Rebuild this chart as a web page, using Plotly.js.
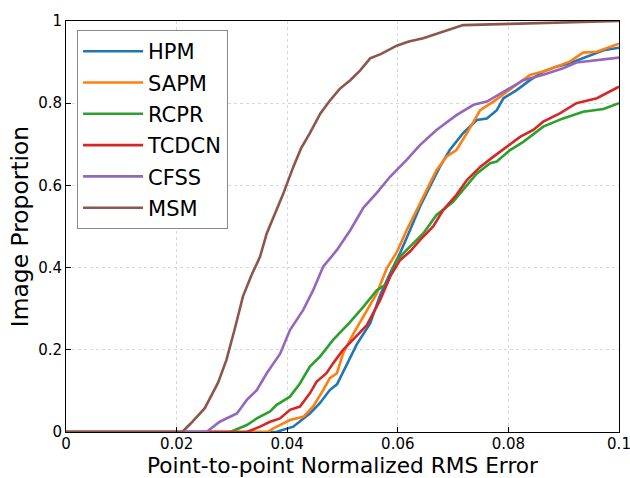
<!DOCTYPE html>
<html><head><meta charset="utf-8">
<script src="https://cdn.plot.ly/plotly-3.0.1.min.js"></script>
<style>html,body{margin:0;padding:0;background:#fff}#chart{width:630px;height:478px}</style>
</head><body><div id="chart"></div>
<script>
var seriesNames = ["HPM","SAPM","RCPR","TCDCN","CFSS","MSM"];
var seriesColors = ["#1f77b4","#ff7f0e","#2ca02c","#d62728","#9467bd","#8c564b"];

var hpmX = [0,0.038,0.0411,0.0441,0.0459,0.0477,0.049,0.0508,0.0526,0.055,0.0568,0.0586,0.0604,0.0622,0.064,0.0658,0.0676,0.0694,0.0718,0.0743,0.0761,0.0779,0.0791,0.0815,0.0839,0.0863,0.0887,0.0911,0.0935,0.0972,0.1];
var hpmY = [0,0,0.013,0.045,0.07,0.102,0.116,0.163,0.214,0.264,0.333,0.386,0.435,0.491,0.548,0.597,0.645,0.686,0.727,0.759,0.763,0.783,0.812,0.832,0.856,0.877,0.889,0.897,0.909,0.929,0.935];

var sapmX = [0,0.0365,0.0375,0.0405,0.0429,0.0447,0.0465,0.0477,0.049,0.0501,0.052,0.0544,0.0562,0.058,0.0598,0.0616,0.0634,0.0652,0.067,0.0688,0.0706,0.0725,0.0749,0.0773,0.0797,0.0839,0.0863,0.0887,0.0911,0.0935,0.096,0.1];
var sapmY = [0,0,0.009,0.029,0.037,0.062,0.102,0.131,0.143,0.191,0.24,0.297,0.337,0.398,0.437,0.491,0.54,0.589,0.637,0.67,0.686,0.727,0.783,0.804,0.828,0.869,0.877,0.889,0.901,0.923,0.925,0.945];

var rcprX = [0,0.0297,0.0327,0.0345,0.0369,0.0381,0.0405,0.0423,0.0441,0.0459,0.0483,0.0514,0.0538,0.0562,0.058,0.0598,0.0622,0.0646,0.067,0.07,0.0718,0.0743,0.0767,0.0779,0.0803,0.0827,0.0863,0.0899,0.0935,0.0972,0.1];
var rcprY = [0,0,0.017,0.033,0.05,0.066,0.086,0.118,0.159,0.183,0.224,0.268,0.305,0.345,0.36,0.418,0.451,0.483,0.528,0.56,0.589,0.629,0.654,0.658,0.686,0.706,0.743,0.763,0.779,0.786,0.8];

var tcdcnX = [0,0.0327,0.0351,0.0369,0.0387,0.0405,0.0423,0.0441,0.0453,0.0471,0.0483,0.0501,0.052,0.0544,0.0568,0.0586,0.0604,0.0622,0.064,0.0664,0.0682,0.0706,0.0725,0.0749,0.0773,0.0797,0.0821,0.0845,0.0863,0.0893,0.0923,0.096,0.1];
var tcdcnY = [0,0,0.013,0.025,0.033,0.054,0.062,0.094,0.122,0.143,0.167,0.2,0.226,0.26,0.321,0.378,0.418,0.439,0.467,0.5,0.54,0.577,0.613,0.645,0.67,0.694,0.718,0.735,0.755,0.775,0.8,0.812,0.84];

var cfssX = [0,0.0254,0.0278,0.0309,0.0327,0.0345,0.0363,0.0387,0.0405,0.0429,0.0447,0.0465,0.049,0.0514,0.0538,0.0562,0.0586,0.0616,0.064,0.067,0.0706,0.0737,0.0761,0.0797,0.0827,0.0863,0.0899,0.0923,0.096,0.1];
var cfssY = [0,0,0.025,0.045,0.078,0.102,0.143,0.19,0.248,0.297,0.345,0.402,0.443,0.491,0.546,0.582,0.621,0.662,0.698,0.735,0.771,0.796,0.804,0.832,0.856,0.869,0.885,0.899,0.905,0.911];

var msmX = [0,0.021,0.0225,0.0251,0.0275,0.029,0.0305,0.032,0.0335,0.0351,0.0363,0.0378,0.0393,0.0411,0.0425,0.0441,0.046,0.0477,0.0495,0.0514,0.0532,0.055,0.057,0.0598,0.062,0.0646,0.0676,0.0694,0.0718,0.0803,0.0923,0.1];
var msmY = [0,0,0.02,0.058,0.12,0.175,0.25,0.33,0.38,0.427,0.483,0.53,0.58,0.645,0.69,0.727,0.775,0.806,0.835,0.856,0.88,0.909,0.92,0.94,0.95,0.958,0.972,0.98,0.99,0.993,0.998,1.0];

var xTickVals = [0,0.02,0.04,0.06,0.08,0.1];
var xTickText = ["0","0.02","0.04","0.06","0.08","0.1"];
var yTickVals = [0,0.2,0.4,0.6,0.8,1];
var yTickText = ["0","0.2","0.4","0.6","0.8","1"];

var xs = [hpmX,sapmX,rcprX,tcdcnX,cfssX,msmX];
var ys = [hpmY,sapmY,rcprY,tcdcnY,cfssY,msmY];
var traces = seriesNames.map(function(n,i){
  return {x: xs[i], y: ys[i], name: n, type: 'scatter', mode: 'lines',
    legendgroup: 'g'+i,
    line: {color: seriesColors[i], width: 2.6}};
});

var font = "DejaVu Sans, sans-serif";
var layout = {
  width: 630, height: 478,
  margin: {l: 66, r: 11, t: 21, b: 46},
  paper_bgcolor: '#fff', plot_bgcolor: '#fff',
  font: {family: font, color: '#000'},
  showlegend: true,
  legend: {x: 0.02, y: 0.978, xanchor: 'left', yanchor: 'top',
    bgcolor: '#fff', bordercolor: '#888', borderwidth: 1,
    font: {family: font, size: 21, color: '#000'},
    itemwidth: 60,
    traceorder: 'grouped', tracegroupgap: 1},
  xaxis: {range: [0,0.1], tickvals: xTickVals, ticktext: xTickText,
    ticks: 'inside', ticklen: 5, tickcolor: '#000', tickwidth: 1,
    ticklabeloverflow: 'allow', ticklabelstandoff: -2,
    showline: true, linecolor: '#000', linewidth: 1, mirror: true,
    showgrid: true, gridcolor: '#d9d9d9', griddash: 'dot', gridwidth: 1,
    zeroline: false, tickfont: {family: font, size: 15, color: '#000'},
    title: {text: 'Point-to-point Normalized RMS Error', font: {family: font, size: 21.7, color: '#000'}, standoff: 8}},
  yaxis: {range: [0,1], tickvals: yTickVals, ticktext: yTickText,
    ticks: 'inside', ticklen: 5, tickcolor: '#000', tickwidth: 1,
    showline: true, linecolor: '#000', linewidth: 1, mirror: true,
    showgrid: true, gridcolor: '#d9d9d9', griddash: 'dot', gridwidth: 1,
    zeroline: false, tickfont: {family: font, size: 15, color: '#000'},
    title: {text: 'Image Proportion', font: {family: font, size: 23.4, color: '#000'}, standoff: 2}}
};
Plotly.newPlot('chart', traces, layout, {displayModeBar: false, staticPlot: true});
</script>
</body></html>
